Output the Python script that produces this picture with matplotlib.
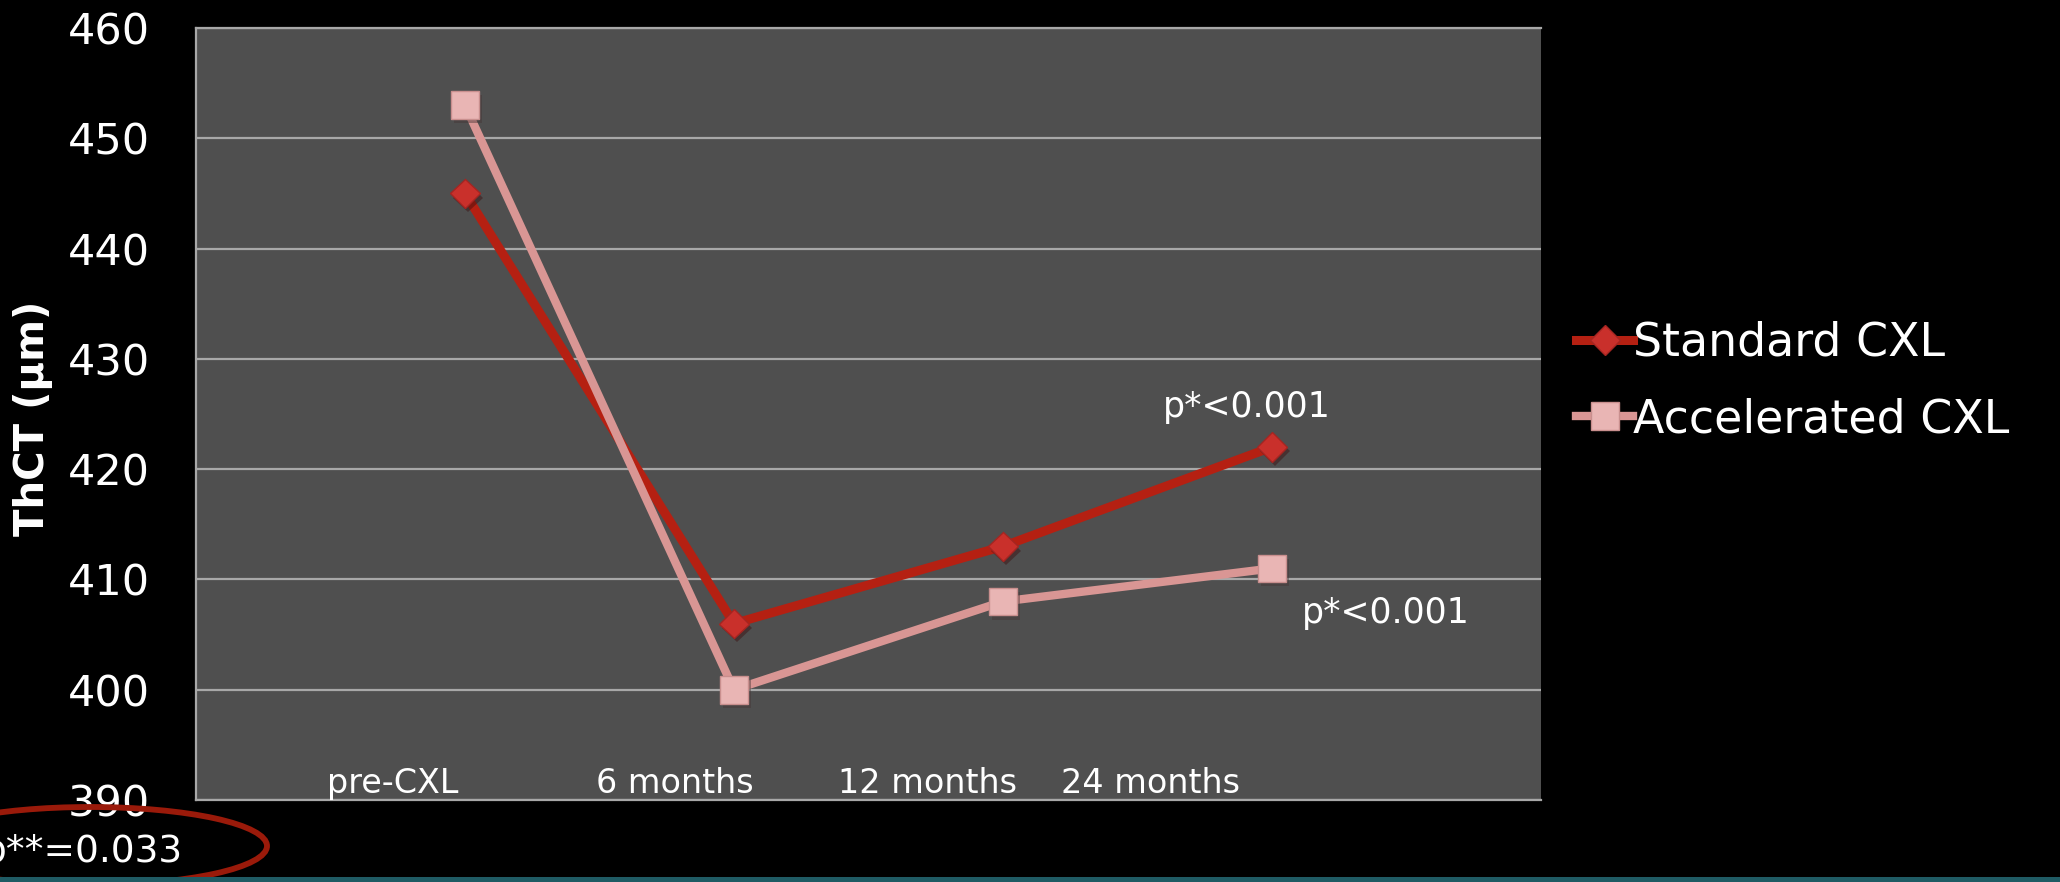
import matplotlib
matplotlib.use('Agg')
import matplotlib.pyplot as plt
import matplotlib.patheffects as pe
from matplotlib.patches import Ellipse, Rectangle

plt.rcParams['font.family'] = ['DejaVu Sans']

# Данные: толщина роговицы (ThCT, мкм) по визитам
categories = ['pre-CXL', '6 months', '12 months', '24 months']
standard_cxl = [445, 406, 413, 422]
accelerated_cxl = [453, 400, 408, 411]
y_ticks = [390, 400, 410, 420, 430, 440, 450, 460]

W, H = 2060, 882
DPI = 100


def fx(px):
    return px / W


def fy(py):
    # пиксели сверху -> доля снизу
    return 1 - py / H


fig = plt.figure(figsize=(W / DPI, H / DPI), dpi=DPI, facecolor='black')
ax = fig.add_axes([fx(196), fy(800), fx(1541) - fx(196), fy(28) - fy(800)])
ax.set_facecolor('#4f4f4f')

x = list(range(len(categories)))
ax.set_xlim(-1, 4)
ax.set_ylim(390, 460)

# сетка
ax.set_yticks(y_ticks)
ax.set_yticklabels([str(v) for v in y_ticks], color='white', fontsize=31)
ax.tick_params(axis='y', length=0, pad=33)
ax.set_xticks([])
ax.grid(axis='y', color='#a8a8a8', linewidth=1.6)
ax.set_axisbelow(True)
for side in ['left', 'bottom', 'top']:
    ax.spines[side].set_color('#a8a8a8')
    ax.spines[side].set_linewidth(1.6)
ax.spines['right'].set_visible(False)

std_line = '#b52012'
std_mark = '#c9302b'
acc_line = '#d99694'
acc_mark = '#e9b5b4'

shadow = [pe.SimplePatchShadow(offset=(2, -3), alpha=0.45), pe.Normal()]

# светлая линия поверх тёмной
ax.plot(x, standard_cxl, color=std_line, linewidth=6.5, solid_capstyle='butt', zorder=3)
ax.plot(x, accelerated_cxl, color=acc_line, linewidth=6.0, solid_capstyle='butt', zorder=4)
ax.plot(x, standard_cxl, linestyle='none', marker='D', markersize=15,
        markerfacecolor=std_mark, markeredgecolor='#a52521', markeredgewidth=1,
        path_effects=shadow, zorder=5)
ax.plot(x, accelerated_cxl, linestyle='none', marker='s', markersize=20,
        markerfacecolor=acc_mark, markeredgecolor='#c98f8e', markeredgewidth=1,
        path_effects=shadow, zorder=6)

# подписи категорий внутри области графика
label_x = [-0.27, 0.78, 1.72, 2.55]
for lx, name in zip(label_x, categories):
    ax.text(lx, 390.6, name, color='white', fontsize=24, ha='center', va='baseline')

# p-значения
ax.text(3.22, 425.6, 'p*<0.001', color='white', fontsize=25, ha='right', va='center')
ax.text(3.11, 407.0, 'p*<0.001', color='white', fontsize=25, ha='left', va='center')

fig.text(fx(33), fy(418), 'ThCT (μm)', color='white', fontsize=29, fontweight='bold',
         rotation=90, ha='center', va='center')

# легенда справа
leg_std, = ax.plot([], [], color=std_line, linewidth=6.5, marker='D', markersize=15,
                   markerfacecolor=std_mark, markeredgecolor='#a52521')
leg_acc, = ax.plot([], [], color=acc_line, linewidth=6.0, marker='s', markersize=20,
                   markerfacecolor=acc_mark, markeredgecolor='#c98f8e')
leg = fig.legend([leg_std, leg_acc], ['Standard CXL', 'Accelerated CXL'],
                 loc='center left', bbox_to_anchor=(fx(1553), fy(381.5)),
                 frameon=False, fontsize=33, handlelength=1.25, handletextpad=0.0,
                 borderpad=0, labelspacing=0.68)
for t in leg.get_texts():
    t.set_color('white')

# p** под осью и красный овал
fig.text(fx(183), fy(862), 'p**=0.033', color='white', fontsize=27, ha='right', va='baseline')
fig.add_artist(Ellipse((fx(90), fy(846)), fx(354), 78 / H, transform=fig.transFigure,
                       fill=False, edgecolor='#9a1a0a', linewidth=4.2))

# полоса внизу
fig.add_artist(Rectangle((0, 0), 1, 5 / H, transform=fig.transFigure,
                         facecolor='#1f5b64', edgecolor='none'))

fig.savefig('out.png', dpi=DPI, facecolor='black')
